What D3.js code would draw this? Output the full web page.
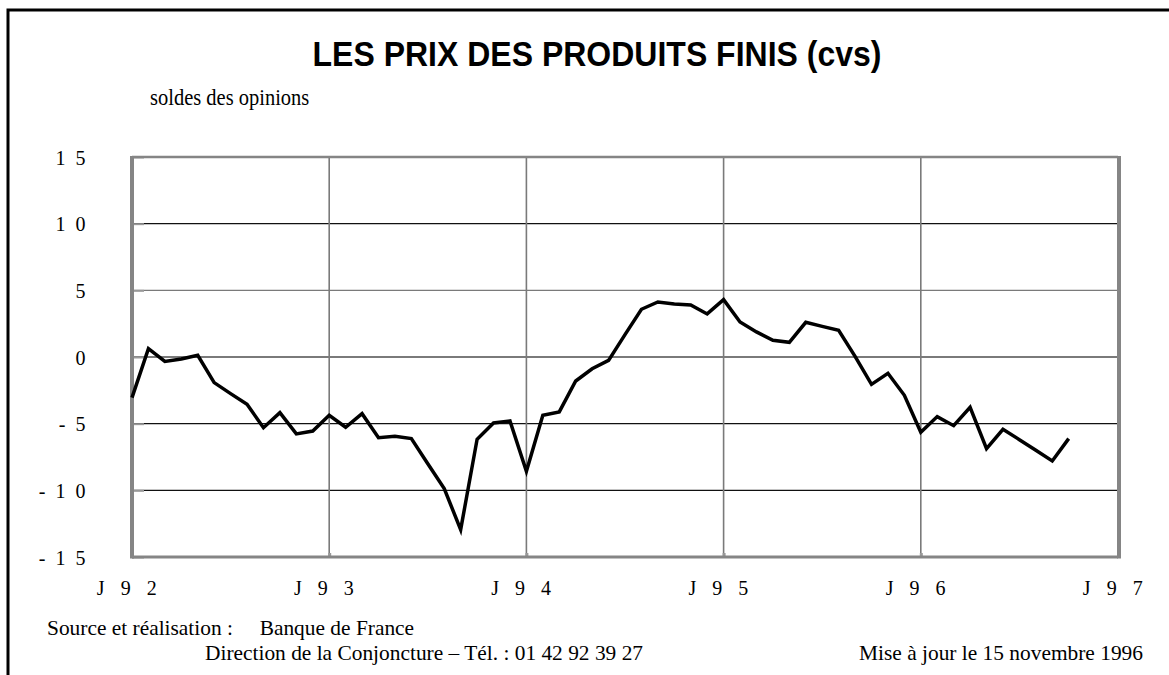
<!DOCTYPE html>
<html>
<head>
<meta charset="utf-8">
<script src="https://cdn.jsdelivr.net/npm/d3@7"></script>
<style>
  body { margin: 0; background: #fff; }
  svg text { font-family: "Liberation Serif", "Times New Roman", serif; }
</style>
</head>
<body>
<svg id="chart" width="1169" height="675"></svg>
<script>
// monthly balance of opinions, Jan 92 .. Oct 96
var values = [-3.05, 0.63, -0.33, -0.15, 0.13, -1.92, -2.75, -3.55, -5.3, -4.17,
              -5.77, -5.55, -4.37, -5.27, -4.25, -6.05, -5.95, -6.12, -8.0, -9.87,
              -12.95, -6.17, -4.95, -4.8, -8.57, -4.37, -4.12, -1.8, -0.88, -0.25,
              1.68, 3.58, 4.13, 3.98, 3.9, 3.23, 4.3, 2.63, 1.88, 1.25,
              1.1, 2.6, 2.3, 2.0, 0.05, -2.05, -1.22, -2.87, -5.65, -4.47,
              -5.15, -3.77, -6.87, -5.42, -6.2, -7.0, -7.8, -6.12];
var yearLabels = ["J92", "J93", "J94", "J95", "J96", "J97"];
var yTicks = [15, 10, 5, 0, -5, -10, -15];

var svg = d3.select("#chart");

var x = d3.scaleLinear().domain([0, 60]).range([132, 1118]);
var y = d3.scaleLinear().domain([-15, 15]).range([557, 157]);

function spaced(s) { return String(s).split("").join(" "); }

// page border
svg.append("path")
    .attr("d", "M8,675 L8,10 L1169,10")
    .attr("fill", "none").attr("stroke", "#000").attr("stroke-width", 3);

// title (narrow-ish bold sans)
svg.append("text")
    .attr("transform", "translate(597,66) scale(1,1.12)")
    .attr("text-anchor", "middle")
    .style("font-family", "'Liberation Sans', Arial, sans-serif")
    .style("font-weight", "bold").style("font-size", "32px")
    .text("LES PRIX DES PRODUITS FINIS (cvs)");

svg.append("text")
    .attr("transform", "translate(150,105) scale(1,1.1)")
    .style("font-size", "20.5px")
    .text("soldes des opinions");

// horizontal grid
svg.append("g").selectAll("line")
    .data(yTicks.filter(function(d) { return d != 15 && d != -15; }))
    .enter().append("line")
    .attr("x1", x(0)).attr("x2", x(60))
    .attr("y1", function(d) { return y(d); })
    .attr("y2", function(d) { return y(d); })
    .attr("stroke", function(d) { return d == 0 || d == 5 ? "#7a7a7a" : "#111"; })
    .attr("stroke-width", function(d) { return d == 0 ? 2 : 1.2; });

// vertical grid
svg.append("g").selectAll("line")
    .data([12, 24, 36, 48])
    .enter().append("line")
    .attr("x1", function(d) { return x(d); })
    .attr("x2", function(d) { return x(d); })
    .attr("y1", y(15)).attr("y2", y(-15))
    .attr("stroke", "#7a7a7a").attr("stroke-width", 1.6);

// y axis labels + small inner ticks
var yAxis = d3.axisLeft(y).tickValues(yTicks)
    .tickSize(-12).tickPadding(44)
    .tickFormat(function(d) { return spaced(d); });
var gy = svg.append("g").attr("transform", "translate(" + x(0) + ",0)").call(yAxis);
gy.select(".domain").remove();
gy.selectAll(".tick line").attr("stroke", "#999").attr("stroke-width", 2);
gy.selectAll(".tick text")
    .attr("fill", "#000")
    .attr("dy", "0.36em")
    .style("font-family", "'Liberation Serif', serif")
    .style("font-size", "20px")
    .style("letter-spacing", "2.5px");

// x axis labels
var xAxis = d3.axisBottom(x).tickValues([0, 12, 24, 36, 48, 60])
    .tickSize(-4).tickPadding(24)
    .tickFormat(function(d, i) { return spaced(yearLabels[i]); });
var gx = svg.append("g").attr("transform", "translate(0," + y(-15) + ")").call(xAxis);
gx.select(".domain").remove();
gx.selectAll(".tick line").attr("stroke", "#999").attr("stroke-width", 3);
gx.selectAll(".tick text")
    .attr("fill", "#000")
    .attr("dx", -3)
    .style("font-family", "'Liberation Serif', serif")
    .style("font-size", "20px")
    .style("letter-spacing", "5.5px");

// plot frame
var fr = svg.append("g").attr("fill", "none").attr("stroke", "#858585");
fr.append("line").attr("x1", x(0)).attr("x2", x(60)).attr("y1", y(15)).attr("y2", y(15)).attr("stroke-width", 2.5);
fr.append("line").attr("x1", x(0)).attr("x2", x(60)).attr("y1", y(-15)).attr("y2", y(-15)).attr("stroke-width", 3);
fr.append("line").attr("x1", x(0)).attr("x2", x(0)).attr("y1", y(15) - 1).attr("y2", y(-15) + 1.5).attr("stroke-width", 4);
fr.append("line").attr("x1", x(60) + 1).attr("x2", x(60) + 1).attr("y1", y(15) - 1).attr("y2", y(-15) + 1.5).attr("stroke-width", 4);

// data line
var line = d3.line()
    .x(function(d, i) { return x(i); })
    .y(function(d) { return y(d); });

svg.append("path")
    .datum(values)
    .attr("d", line)
    .attr("fill", "none")
    .attr("stroke", "#000")
    .attr("stroke-width", 3.5)
    .attr("stroke-linejoin", "miter");

// footer
var foot = svg.append("g").style("font-size", "21.4px").attr("fill", "#000");
foot.append("text").attr("transform", "translate(47,635)")
    .attr("xml:space", "preserve")
    .text("Source et réalisation :     Banque de France");
foot.append("text").attr("transform", "translate(205,660)")
    .text("Direction de la Conjoncture – Tél. : 01 42 92 39 27");
foot.append("text").attr("transform", "translate(1143,660)")
    .attr("text-anchor", "end")
    .text("Mise à jour le 15 novembre 1996");
</script>
</body>
</html>
